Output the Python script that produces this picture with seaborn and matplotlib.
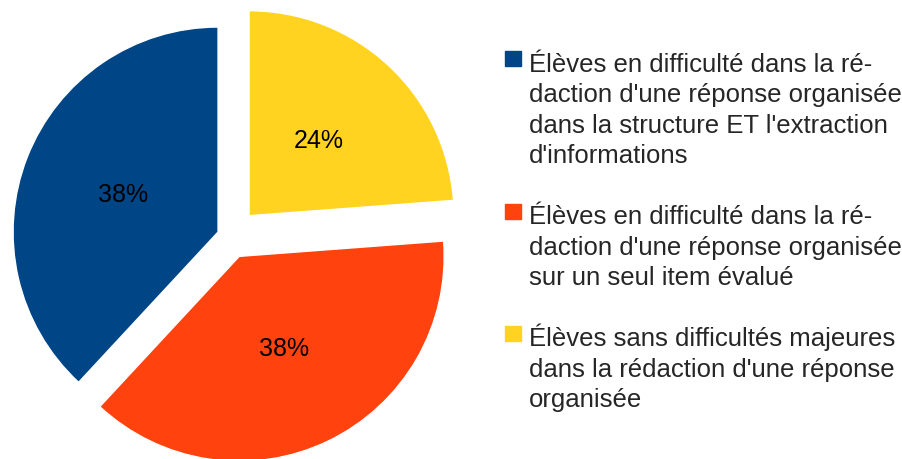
import matplotlib
matplotlib.use("Agg")
import matplotlib.pyplot as plt
from matplotlib.patches import Rectangle
import seaborn as sns

# data (counts: 16 / 16 / 10)
labels = [
    "Élèves en difficulté dans la ré-\ndaction d'une réponse organisée\ndans la structure ET l'extraction\nd'informations",
    "Élèves en difficulté dans la ré-\ndaction d'une réponse organisée\nsur un seul item évalué",
    "Élèves sans difficultés majeures\ndans la rédaction d'une réponse\norganisée",
]
counts = [16, 16, 10]
colors = ["#004586", "#FF420E", "#FFD320"]
explode = [0.061, 0.107, 0.139]

sns.set_style("white")
plt.rcParams['font.family'] = ['Liberation Sans', 'DejaVu Sans']

W, H = 903, 459
fig = plt.figure(figsize=(W / 100, H / 100), dpi=100)

# pie axes: center at (229.7, 236.6) px, radius 205 px
cx, cy, r, S = 229.7, 236.6, 205, 235
ax = fig.add_axes([(cx - S) / W, (H - cy - S) / H, 2 * S / W, 2 * S / H])
wedges, texts, autotexts = ax.pie(counts, colors=colors, explode=explode, startangle=90,
                                  autopct=lambda p: f"{p:.0f}%", pctdistance=0.5,
                                  textprops={'fontsize': 18, 'color': 'black'})
for w in wedges:
    w.set_clip_on(False)
ax.set_xlim(-S / r, S / r)
ax.set_ylim(-S / r, S / r)
ax.set_aspect('equal')
ax.axis('off')

# legend drawn by hand so the multi-line labels line up like the original
line_px, gap_px = 31, 29
y = 70  # baseline of the first line of each entry, px from top
for lab, col in zip(labels, colors):
    n = lab.count("\n") + 1
    fig.patches.append(Rectangle((505 / W, 1 - (y - 4) / H), 16 / W, 15 / H,
                                 transform=fig.transFigure, color=col, figure=fig))
    # baseline alignment anchors the last line
    fig.text(529 / W, 1 - (y + (n - 1) * line_px) / H, lab, fontsize=18.5,
             va='baseline', ha='left', linespacing=1.34)
    y += n * line_px + gap_px

fig.savefig("out.png", dpi=100)
